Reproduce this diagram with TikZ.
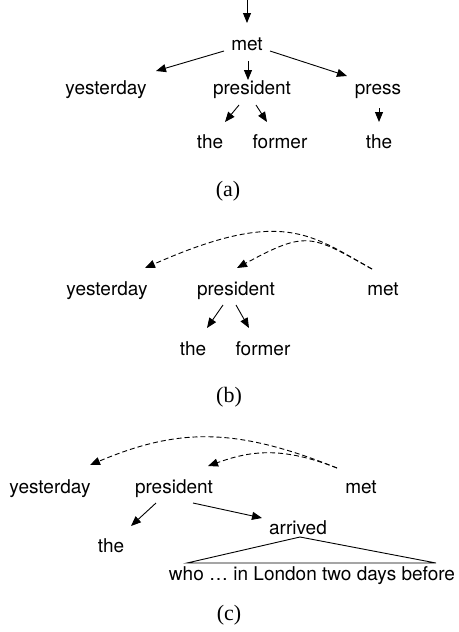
\documentclass[tikz,border=0pt]{standalone}
\usepackage{fontspec}
\setmainfont{Liberation Serif}
\newfontfamily\helv{TeX Gyre Heros}
\usetikzlibrary{arrows.meta}
\tikzset{
  w/.style={font=\helv\fontsize{19}{22}\selectfont, inner sep=0pt, anchor=base},
  lab/.style={font=\fontsize{22}{26}\selectfont, inner sep=0pt, anchor=base},
  arr/.style={line width=0.9pt, -{Triangle[length=10pt,width=8pt]}},
  darr/.style={arr, dash pattern=on 5pt off 3pt},
  tri/.style={line width=0.9pt}
}
\begin{document}
\begin{tikzpicture}[x=1pt,y=-1pt]
\useasboundingbox (0,0) rectangle (458,632);
% ---------- (a)
\node[w] (aMet) at (247,50) {met};
\node[w] (aYes) at (106,94) {yesterday};
\node[w] (aPres) at (252,94) {president};
\node[w] (aPress) at (378,94) {press};
\node[w] (aThe) at (210,148) {the};
\node[w] (aFormer) at (280,148) {former};
\node[w] (aTheTwo) at (379,148) {the};
\node[lab] (aLab) at (228,196) {(a)};
\coordinate (aTop) at (247,0);
\draw[arr] (aTop) -- ([shift={(0,-27)}]aMet.base);
\draw[arr] ([shift={(-23,1)}]aMet.base) -- ([shift={(50,-23)}]aYes.base);
\draw[arr] ([shift={(1,11)}]aMet.base) -- ([shift={(-4,-14)}]aPres.base);
\draw[arr] ([shift={(23,1)}]aMet.base) -- ([shift={(-31,-18)}]aPress.base);
\draw[arr] ([shift={(-13,11)}]aPres.base) -- ([shift={(15,-26)}]aThe.base);
\draw[arr] ([shift={(4,11)}]aPres.base) -- ([shift={(-13,-26)}]aFormer.base);
\draw[arr] ([shift={(1,14)}]aPress.base) -- ([shift={(0,-26)}]aTheTwo.base);
% ---------- (b)
\node[w] (bYes) at (107,295) {yesterday};
\node[w] (bPres) at (236,295) {president};
\node[w] (bMet) at (383,295) {met};
\node[w] (bThe) at (193,355) {the};
\node[w] (bFormer) at (263,355) {former};
\node[lab] (bLab) at (229,402) {(b)};
\draw[darr] ([shift={(-11,-26)}]bMet.base) .. controls (311,235) and (283,207) .. ([shift={(38,-27)}]bYes.base);
\draw[darr] ([shift={(-11,-26)}]bMet.base) .. controls (311,235) and (307,230) .. ([shift={(1,-27)}]bPres.base);
\draw[arr] ([shift={(-13,10)}]bPres.base) -- ([shift={(14,-27)}]bThe.base);
\draw[arr] ([shift={(0,10)}]bPres.base) -- ([shift={(-14,-27)}]bFormer.base);
% ---------- (c)
\node[w] (cYes) at (50,493) {yesterday};
\node[w] (cPres) at (174,493) {president};
\node[w] (cMet) at (361,493) {met};
\node[w] (cThe) at (111,552) {the};
\node[w] (cArr) at (298,534) {arrived};
\node[w] (cWho) at (312,580) {who … in London two days before};
\node[lab] (cLab) at (229,620) {(c)};
\draw[darr] ([shift={(-24,-25)}]cMet.base) .. controls (235,427) and (178,428) .. ([shift={(40,-28)}]cYes.base);
\draw[darr] ([shift={(-24,-25)}]cMet.base) .. controls (281,446) and (250,451) .. ([shift={(34,-27)}]cPres.base);
\draw[arr] ([shift={(-18,10)}]cPres.base) -- ([shift={(20,-26)}]cThe.base);
\draw[arr] ([shift={(19,10)}]cPres.base) -- ([shift={(-36,-16)}]cArr.base);
\draw[tri] ([shift={(2,3)}]cArr.base) -- ([shift={(-125,-17)}]cWho.base) -- ([shift={(124,-17)}]cWho.base) -- cycle;
\end{tikzpicture}
\end{document}
